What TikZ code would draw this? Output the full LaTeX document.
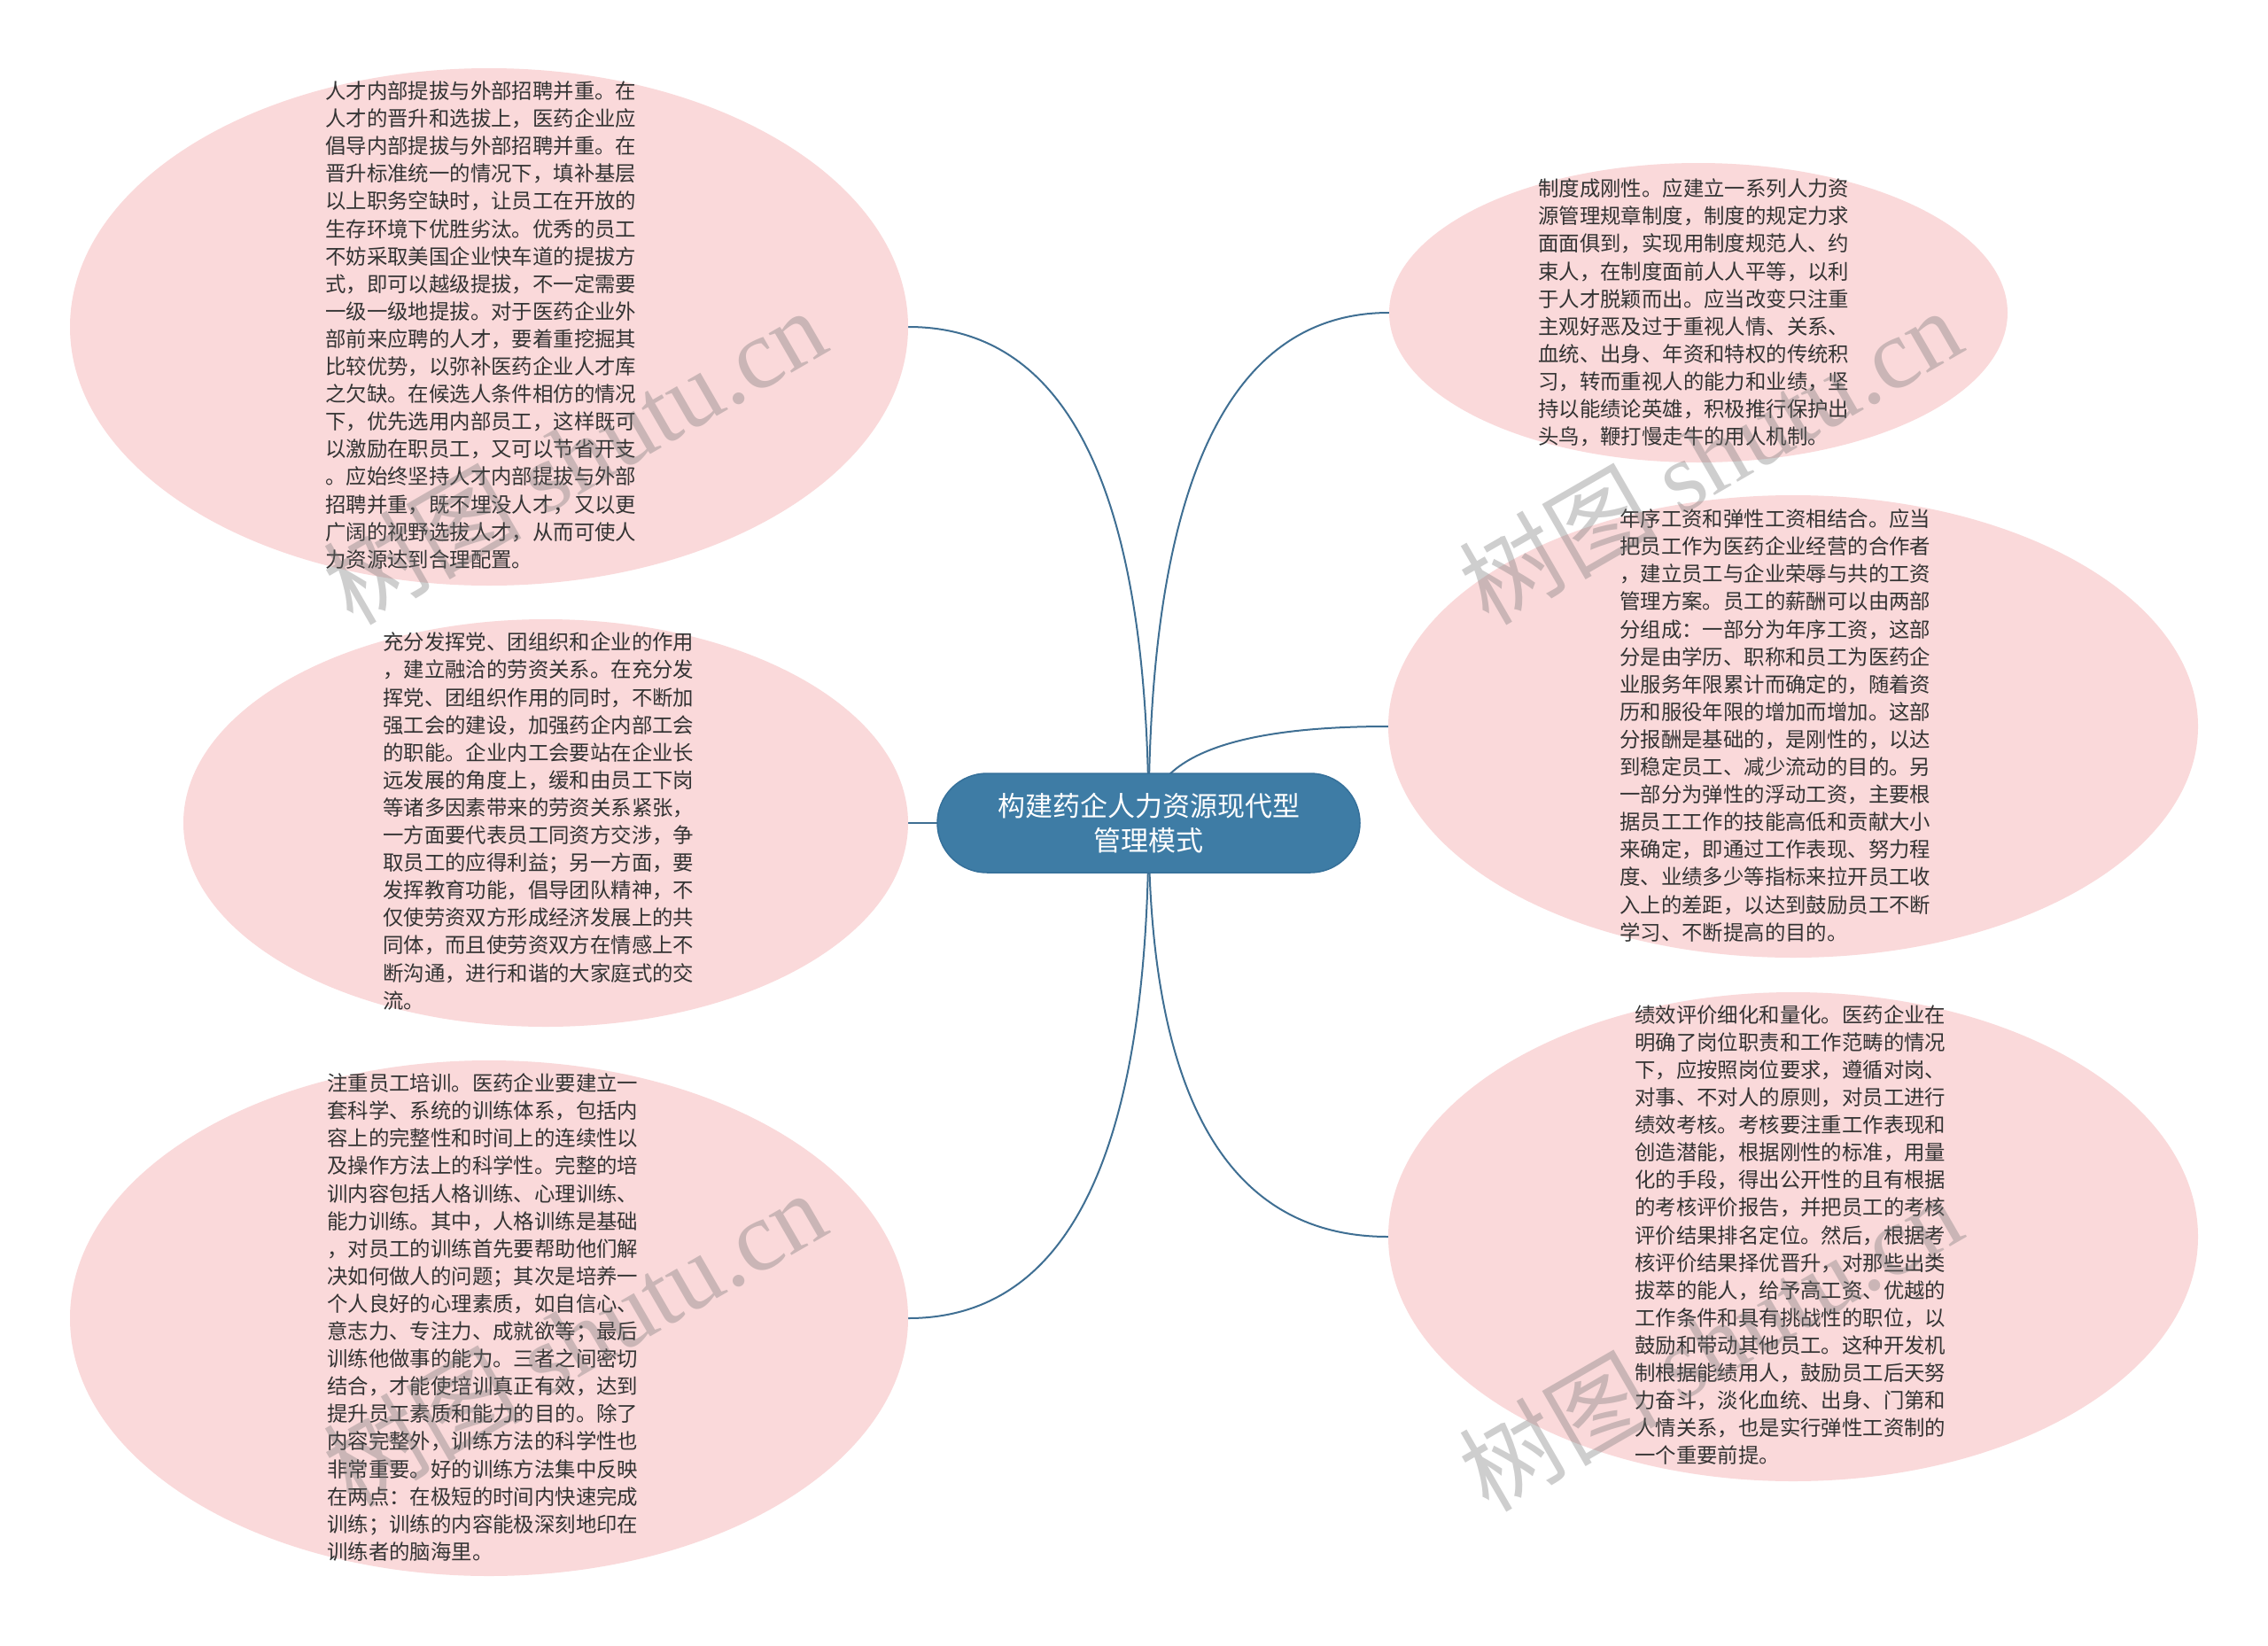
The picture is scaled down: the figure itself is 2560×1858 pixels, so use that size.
\documentclass[tikz,border=0pt]{standalone}
\usepackage{fontspec}
\setmainfont{Noto Sans CJK SC}
\newfontfamily\wmlatin{Liberation Serif}
\usetikzlibrary{shapes.geometric,calc,backgrounds}
\definecolor{pinkfill}{HTML}{FAD9DA}
\definecolor{ctrfill}{HTML}{3E7CA5}
\definecolor{ctrline}{HTML}{35709A}
\definecolor{linecol}{HTML}{3F6F93}
\definecolor{txtcol}{HTML}{333333}
\newcommand\mmlink[2]{\draw[conn] (#1) .. controls ($(#1)!0.6667!(#1|-#2)$) and ($(#2)!0.6667!(#1|-#2)$) .. (#2);}
\begin{document}
\begin{tikzpicture}[x=1pt,y=-1pt,
  bubble/.style={ellipse, fill=pinkfill, draw=none, inner sep=0pt},
  body/.style={anchor=west, align=left, inner sep=0pt, text=txtcol, font=\fontsize{23.4}{31.1}\selectfont},
  ctrnode/.style={rectangle, rounded corners=56pt, fill=ctrfill, draw=ctrline, line width=1.5pt, minimum width=477pt, minimum height=112pt, inner sep=0pt, text=white, align=center, font=\fontsize{31}{39}\selectfont},
  conn/.style={draw=linecol, line width=2pt},
  wm/.style={rotate=30, text=black!55, text opacity=0.35, inner sep=0pt, font=\fontsize{112}{112}\selectfont}]

% ellipses
\node[bubble, minimum width=946pt, minimum height=584pt] (e1) at (552,369) {};
\node[bubble, minimum width=818pt, minimum height=460pt] (e2) at (616,929) {};
\node[bubble, minimum width=946pt, minimum height=582pt] (e3) at (552,1488) {};
\node[bubble, minimum width=698pt, minimum height=338pt] (e4) at (1917,353) {};
\node[bubble, minimum width=914pt, minimum height=522pt] (e5) at (2024,820) {};
\node[bubble, minimum width=914pt, minimum height=552pt] (e6) at (2024,1396) {};

% centre
\node[ctrnode] (ctr) at (1296.5,929) {构建药企人力资源现代型\\管理模式};

\begin{pgfonlayer}{background}
\fill[white] (0,0) rectangle (2560,1858);
\mmlink{ctr.center}{e1.east}
\draw[conn] (ctr.center) -- (e2.east);
\mmlink{ctr.center}{e3.east}
\mmlink{ctr.center}{e4.west}
\mmlink{ctr.center}{e5.west}
\mmlink{ctr.center}{e6.west}
\end{pgfonlayer}
\useasboundingbox (0,0) rectangle (2560,1858);

% texts
\node[body] (t1) at (367,367) {人才内部提拔与外部招聘并重。在\\
人才的晋升和选拔上，医药企业应\\
倡导内部提拔与外部招聘并重。在\\
晋升标准统一的情况下，填补基层\\
以上职务空缺时，让员工在开放的\\
生存环境下优胜劣汰。优秀的员工\\
不妨采取美国企业快车道的提拔方\\
式，即可以越级提拔，不一定需要\\
一级一级地提拔。对于医药企业外\\
部前来应聘的人才，要着重挖掘其\\
比较优势，以弥补医药企业人才库\\
之欠缺。在候选人条件相仿的情况\\
下，优先选用内部员工，这样既可\\
以激励在职员工，又可以节省开支\\
。应始终坚持人才内部提拔与外部\\
招聘并重，既不埋没人才，又以更\\
广阔的视野选拔人才，从而可使人\\
力资源达到合理配置。};

\node[body] (t2) at (432,927) {充分发挥党、团组织和企业的作用\\
，建立融洽的劳资关系。在充分发\\
挥党、团组织作用的同时，不断加\\
强工会的建设，加强药企内部工会\\
的职能。企业内工会要站在企业长\\
远发展的角度上，缓和由员工下岗\\
等诸多因素带来的劳资关系紧张，\\
一方面要代表员工同资方交涉，争\\
取员工的应得利益；另一方面，要\\
发挥教育功能，倡导团队精神，不\\
仅使劳资双方形成经济发展上的共\\
同体，而且使劳资双方在情感上不\\
断沟通，进行和谐的大家庭式的交\\
流。};

\node[body] (t3) at (369,1487) {注重员工培训。医药企业要建立一\\
套科学、系统的训练体系，包括内\\
容上的完整性和时间上的连续性以\\
及操作方法上的科学性。完整的培\\
训内容包括人格训练、心理训练、\\
能力训练。其中，人格训练是基础\\
，对员工的训练首先要帮助他们解\\
决如何做人的问题；其次是培养一\\
个人良好的心理素质，如自信心、\\
意志力、专注力、成就欲等；最后\\
训练他做事的能力。三者之间密切\\
结合，才能使培训真正有效，达到\\
提升员工素质和能力的目的。除了\\
内容完整外，训练方法的科学性也\\
非常重要。好的训练方法集中反映\\
在两点：在极短的时间内快速完成\\
训练；训练的内容能极深刻地印在\\
训练者的脑海里。};

\node[body] (t4) at (1736,353) {制度成刚性。应建立一系列人力资\\
源管理规章制度，制度的规定力求\\
面面俱到，实现用制度规范人、约\\
束人，在制度面前人人平等，以利\\
于人才脱颖而出。应当改变只注重\\
主观好恶及过于重视人情、关系、\\
血统、出身、年资和特权的传统积\\
习，转而重视人的能力和业绩，坚\\
持以能绩论英雄，积极推行保护出\\
头鸟，鞭打慢走牛的用人机制。};

\node[body] (t5) at (1828,819) {年序工资和弹性工资相结合。应当\\
把员工作为医药企业经营的合作者\\
，建立员工与企业荣辱与共的工资\\
管理方案。员工的薪酬可以由两部\\
分组成：一部分为年序工资，这部\\
分是由学历、职称和员工为医药企\\
业服务年限累计而确定的，随着资\\
历和服役年限的增加而增加。这部\\
分报酬是基础的，是刚性的，以达\\
到稳定员工、减少流动的目的。另\\
一部分为弹性的浮动工资，主要根\\
据员工工作的技能高低和贡献大小\\
来确定，即通过工作表现、努力程\\
度、业绩多少等指标来拉开员工收\\
入上的差距，以达到鼓励员工不断\\
学习、不断提高的目的。};

\node[body] (t6) at (1845,1394) {绩效评价细化和量化。医药企业在\\
明确了岗位职责和工作范畴的情况\\
下，应按照岗位要求，遵循对岗、\\
对事、不对人的原则，对员工进行\\
绩效考核。考核要注重工作表现和\\
创造潜能，根据刚性的标准，用量\\
化的手段，得出公开性的且有根据\\
的考核评价报告，并把员工的考核\\
评价结果排名定位。然后，根据考\\
核评价结果择优晋升，对那些出类\\
拔萃的能人，给予高工资、优越的\\
工作条件和具有挑战性的职位，以\\
鼓励和带动其他员工。这种开发机\\
制根据能绩用人，鼓励员工后天努\\
力奋斗，淡化血统、出身、门第和\\
人情关系，也是实行弹性工资制的\\
一个重要前提。};

% watermarks
\node[wm] (w1) at (648,514) {树图 {\wmlatin shutu.cn}};
\node[wm] (w2) at (648,1510) {树图 {\wmlatin shutu.cn}};
\node[wm] (w3) at (1930,514) {树图 {\wmlatin shutu.cn}};
\node[wm] (w4) at (1930,1515) {树图 {\wmlatin shutu.cn}};
\end{tikzpicture}
\end{document}
